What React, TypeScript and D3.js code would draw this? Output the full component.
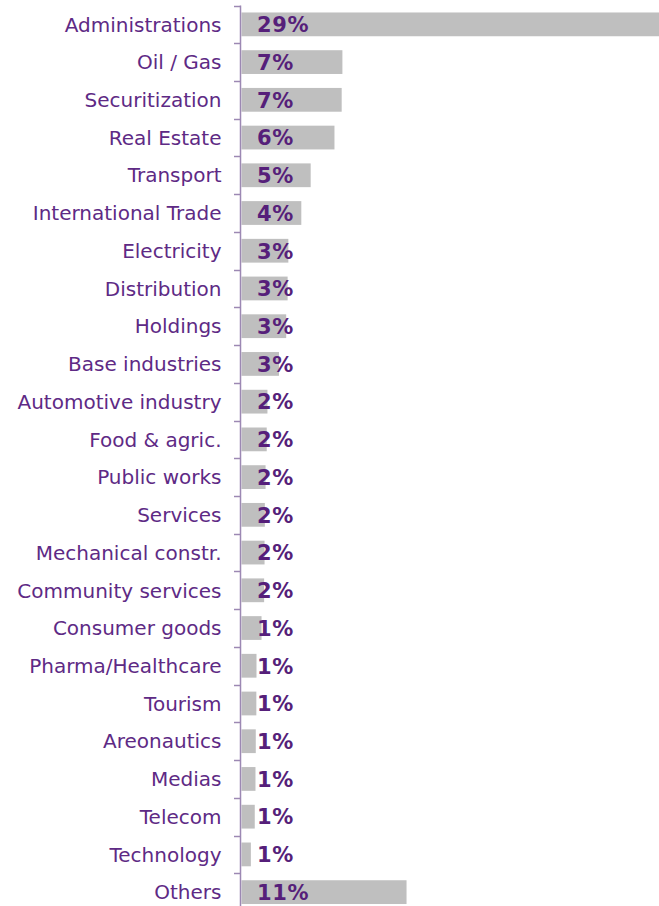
import React from "react";
import * as d3 from "d3";

const categories = [
  "Administrations", "Oil / Gas", "Securitization", "Real Estate", "Transport",
  "International Trade", "Electricity", "Distribution", "Holdings", "Base industries",
  "Automotive industry", "Food & agric.", "Public works", "Services", "Mechanical constr.",
  "Community services", "Consumer goods", "Pharma/Healthcare", "Tourism", "Areonautics",
  "Medias", "Telecom", "Technology", "Others",
];

const values = [
  29.0, 7.0, 6.95, 6.45, 4.8,
  4.15, 3.25, 3.2, 3.1, 2.6,
  1.8, 1.75, 1.67, 1.62, 1.6,
  1.57, 1.39, 1.04, 1.03, 0.99,
  0.97, 0.92, 0.65, 11.45,
];

const labels = [
  "29%", "7%", "7%", "6%", "5%",
  "4%", "3%", "3%", "3%", "3%",
  "2%", "2%", "2%", "2%", "2%",
  "2%", "1%", "1%", "1%", "1%",
  "1%", "1%", "1%", "11%",
];

const W = 659;
const H = 906;
const AXIS_X = 240.5;

export default function App() {
  const x = d3.scaleLinear().domain([0, 29]).range([241.5, 659.5]);
  const y = d3
    .scaleBand<string>()
    .domain(categories)
    .range([5.5, 911])
    .paddingInner(0.37)
    .paddingOuter(0.185);
  const step = y.step();
  const bw = y.bandwidth();
  const boundaries = categories.map((c) => (y(c) as number) - (step * 0.37) / 2);
  boundaries.push(boundaries[boundaries.length - 1] + step);

  return (
    <svg
      width={W}
      height={H}
      style={{ position: "absolute", left: 0, top: 0, background: "#fff" }}
    >
      {categories.map((c, i) => (
        <rect
          key={"b" + c}
          x={x(0)}
          y={y(c)}
          width={Math.max(0, Math.min(x(values[i]), W) - x(0))}
          height={bw}
          fill="#bfbfbf"
        />
      ))}
      <line x1={AXIS_X} x2={AXIS_X} y1={boundaries[0]} y2={H + 10} stroke="#9c88b3" strokeWidth={1.5} />
      {boundaries.map((b, i) => (
        <line key={"t" + i} x1={234} x2={AXIS_X} y1={Math.round(b) + 0.5} y2={Math.round(b) + 0.5} stroke="#9c88b3" strokeWidth={1.5} />
      ))}
      {categories.map((c) => (
        <text
          key={"l" + c}
          x={221.5}
          y={(y(c) as number) + bw / 2}
          dy="0.36em"
          textAnchor="end"
          fontFamily="DejaVu Sans, sans-serif"
          fontSize={20}
          fill="#5e2a85"
        >
          {c}
        </text>
      ))}
      {categories.map((c, i) => (
        <text
          key={"v" + c}
          x={257}
          y={(y(c) as number) + bw / 2}
          dy="0.37em"
          textAnchor="start"
          fontFamily="DejaVu Sans, sans-serif"
          fontWeight="bold"
          fontSize={21}
          letterSpacing={0.6}
          fill="#561f7a"
        >
          {labels[i]}
        </text>
      ))}
    </svg>
  );
}
